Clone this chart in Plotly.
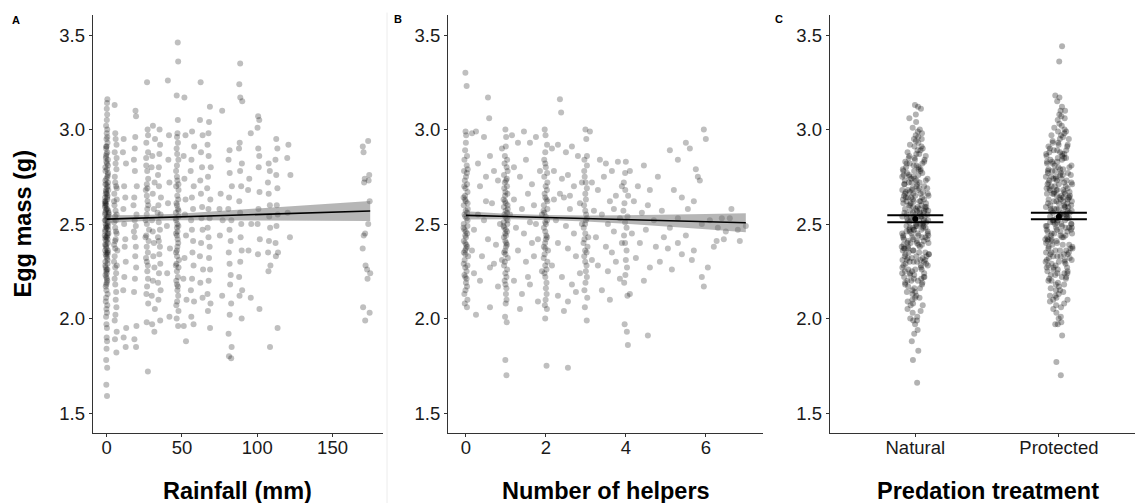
import plotly.graph_objects as go

W, H = 1135, 503
FONT = "Liberation Sans, Arial, sans-serif"
PT = "rgba(0,0,0,0.25)"
PT_DENSE = "rgba(0,0,0,0.30)"

# ---------------- Panel A: egg mass by rainfall (mm) ----------------
mass_r0 = [3.16, 3.14, 3.11, 3.08, 3.05, 3.02, 3.00, 2.98, 2.96, 2.95, 2.93, 2.91, 2.90, 2.88, 2.87, 2.86, 2.85, 2.83, 2.82, 2.80,
           2.79, 2.78, 2.76, 2.75, 2.74, 2.72, 2.71, 2.70, 2.68, 2.67, 2.66, 2.65, 2.64, 2.62, 2.61, 2.60, 2.59, 2.58, 2.57, 2.56,
           2.55, 2.54, 2.53, 2.52, 2.51, 2.50, 2.49, 2.48, 2.47, 2.46, 2.45, 2.44, 2.43, 2.42, 2.41, 2.40, 2.39, 2.38, 2.36, 2.35,
           2.34, 2.33, 2.31, 2.30, 2.29, 2.27, 2.26, 2.25, 2.23, 2.22, 2.20, 2.19, 2.17, 2.15, 2.13, 2.11, 2.09, 2.07, 2.05, 2.03,
           2.01, 1.97, 1.95, 1.90, 1.88, 1.84, 1.78, 1.74, 1.65, 1.59,
           2.84, 2.77, 2.69, 2.63, 2.58, 2.53, 2.47, 2.42, 2.37, 2.32, 2.28, 2.24, 2.57, 2.61, 2.44, 2.50, 2.36, 2.71, 2.66, 2.55,
           2.81, 2.73, 2.64, 2.56, 2.49, 2.45, 2.39, 2.34, 2.26, 2.21, 2.52, 2.60, 2.68, 2.43, 2.35, 2.91, 2.18, 2.48, 2.54, 2.62]
mass_r6 = [3.13, 2.98, 2.95, 2.92, 2.88, 2.85, 2.82, 2.79, 2.75, 2.72, 2.69, 2.66, 2.62, 2.60, 2.57, 2.54, 2.51, 2.48,
           2.45, 2.42, 2.39, 2.36, 2.33, 2.30, 2.27, 2.24, 2.21, 2.18, 2.14, 2.10, 2.06, 2.02, 1.99, 1.93, 1.89, 1.82,
           2.63, 2.55, 2.46, 2.37, 2.28, 2.70, 2.52, 2.41]
mass_r12 = [2.95, 2.88, 2.82, 2.70, 2.64, 2.58, 2.50, 2.42, 2.38, 2.30, 2.22, 2.15, 1.95, 1.90, 1.85]
mass_r19 = [3.10, 3.07, 2.96, 2.90, 2.84, 2.78, 2.70, 2.64, 2.60, 2.55, 2.49, 2.43, 2.38, 2.33, 2.27, 2.21, 2.14,
            1.96, 1.89, 1.85, 2.52, 2.46]
mass_r27 = [3.25, 3.00, 2.97, 2.93, 2.88, 2.85, 2.81, 2.78, 2.74, 2.71, 2.68, 2.65, 2.62, 2.58, 2.55, 2.52, 2.50,
            2.47, 2.44, 2.41, 2.38, 2.35, 2.32, 2.28, 2.25, 2.21, 2.17, 2.13, 2.08, 1.98, 1.72, 2.60, 2.43, 2.30, 2.69]
mass_r31 = [3.02, 2.95, 2.86, 2.80, 2.72, 2.66, 2.58, 2.52, 2.46, 2.40, 2.33, 2.27, 2.20, 2.12, 2.05, 1.97, 1.93]
mass_r35 = [3.00, 2.92, 2.87, 2.80, 2.76, 2.70, 2.64, 2.60, 2.56, 2.51, 2.47, 2.43, 2.38, 2.34, 2.29, 2.24, 2.19,
            2.15, 2.10, 1.99, 2.55, 2.41]
mass_r41 = [3.26, 2.97, 2.84, 2.72, 2.61, 2.49, 2.37, 2.24, 2.01]
mass_r47 = [3.46, 3.36, 3.18, 3.05, 2.98, 2.96, 2.93, 2.90, 2.87, 2.84, 2.81, 2.78, 2.75, 2.73, 2.70, 2.68, 2.65,
            2.63, 2.60, 2.58, 2.56, 2.54, 2.52, 2.50, 2.48, 2.46, 2.44, 2.42, 2.40, 2.38, 2.35, 2.33, 2.31, 2.29,
            2.27, 2.25, 2.22, 2.20, 2.18, 2.15, 2.12, 2.09, 2.07, 2.04, 2.00, 1.96, 2.61, 2.53, 2.45, 2.36, 2.28,
            2.17, 2.71, 2.57, 2.49]
mass_r52 = [3.17, 2.97, 2.86, 2.74, 2.63, 2.55, 2.44, 2.32, 2.21, 2.10, 1.96, 1.88]
mass_r57 = [2.99, 2.91, 2.84, 2.78, 2.70, 2.64, 2.58, 2.52, 2.47, 2.41, 2.35, 2.28, 2.21, 2.15, 2.09, 2.01, 1.97]
mass_r63 = [3.25, 3.05, 2.97, 2.88, 2.80, 2.73, 2.66, 2.59, 2.53, 2.47, 2.40, 2.33, 2.26, 2.19, 2.11]
mass_r68 = [3.12, 3.04, 2.98, 2.92, 2.86, 2.80, 2.75, 2.69, 2.63, 2.58, 2.53, 2.48, 2.43, 2.38, 2.32, 2.26, 2.20,
            2.13, 2.08, 2.04, 1.95]
mass_r76 = [3.10, 2.66, 2.58, 2.52, 2.44, 2.12]
mass_r82 = [2.89, 2.84, 2.77, 2.70, 2.64, 2.58, 2.52, 2.47, 2.41, 2.35, 2.29, 2.23, 2.18, 2.08, 2.02, 1.92, 1.85,
            1.80, 1.79]
mass_r89 = [3.35, 3.24, 3.17, 3.15, 2.93, 2.90, 2.82, 2.78, 2.70, 2.62, 2.56, 2.50, 2.43, 2.36, 2.30, 2.22, 2.15,
            2.12, 2.00]
mass_r95 = [2.98, 2.74, 2.68, 2.50, 2.36, 2.11]
mass_r101 = [3.07, 3.05, 3.01, 2.90, 2.86, 2.80, 2.67, 2.58, 2.50, 2.42, 2.34, 2.05]
mass_r108 = [2.82, 2.78, 2.72, 2.66, 2.60, 2.54, 2.48, 2.41, 2.35, 2.28, 2.25, 1.85]
mass_r113 = [2.95, 2.90, 2.84, 2.76, 2.69, 2.60, 2.55, 2.49, 2.40, 2.35, 2.33, 1.95]
mass_r121 = [2.92, 2.85, 2.76, 2.56, 2.43]
mass_r171 = [2.91, 2.88, 2.74, 2.72, 2.45, 2.44, 2.37, 2.28, 2.06, 1.99]
mass_r174 = [2.94, 2.76, 2.73, 2.62, 2.50, 2.26, 2.24, 2.21, 2.03]

rain_columns = [(0, mass_r0), (6, mass_r6), (12, mass_r12), (19, mass_r19), (27, mass_r27), (31, mass_r31),
                (35, mass_r35), (41, mass_r41), (47, mass_r47), (52, mass_r52), (57, mass_r57), (63, mass_r63),
                (68, mass_r68), (76, mass_r76), (82, mass_r82), (89, mass_r89), (95, mass_r95), (101, mass_r101),
                (108, mass_r108), (113, mass_r113), (121, mass_r121), (171, mass_r171), (174, mass_r174)]

rain_fit_x = [0, 25, 50, 75, 100, 125, 150, 175]
rain_fit_y = [2.526, 2.532, 2.538, 2.545, 2.551, 2.557, 2.563, 2.569]
rain_fit_lo = [2.506, 2.516, 2.520, 2.521, 2.519, 2.518, 2.517, 2.516]
rain_fit_hi = [2.546, 2.548, 2.556, 2.569, 2.583, 2.596, 2.609, 2.622]

# ---------------- Panel B: egg mass by number of helpers ----------------
mass_h0 = [3.30, 3.23, 2.99, 2.97, 2.93, 2.89, 2.86, 2.84, 2.81, 2.79, 2.77, 2.75, 2.73, 2.71, 2.69, 2.67, 2.65,
           2.63, 2.61, 2.60, 2.58, 2.56, 2.55, 2.53, 2.52, 2.50, 2.49, 2.47, 2.46, 2.44, 2.43, 2.41, 2.39, 2.38,
           2.36, 2.34, 2.33, 2.31, 2.29, 2.27, 2.25, 2.23, 2.21, 2.19, 2.17, 2.15, 2.13, 2.10, 2.08, 2.06, 2.62,
           2.57, 2.48, 2.40, 2.35, 2.78, 2.70, 2.64, 2.54, 2.45, 2.37, 2.28, 2.22]
mass_h1 = [3.00, 2.96, 2.91, 2.86, 2.84, 2.82, 2.80, 2.78, 2.76, 2.74, 2.72, 2.70, 2.69, 2.67, 2.65, 2.63, 2.62,
           2.60, 2.58, 2.57, 2.55, 2.54, 2.52, 2.51, 2.49, 2.48, 2.46, 2.45, 2.43, 2.41, 2.40, 2.38, 2.36, 2.34,
           2.32, 2.30, 2.28, 2.26, 2.24, 2.22, 2.20, 2.18, 2.16, 2.13, 2.10, 2.08, 2.01, 1.98, 1.78, 1.70, 2.59,
           2.53, 2.47, 2.39, 2.56, 2.66, 2.61, 2.50, 2.44, 2.35, 2.73]
mass_h2 = [3.00, 2.97, 2.92, 2.88, 2.84, 2.82, 2.80, 2.77, 2.75, 2.72, 2.70, 2.68, 2.66, 2.64, 2.62, 2.60, 2.58,
           2.56, 2.54, 2.52, 2.50, 2.48, 2.46, 2.44, 2.42, 2.40, 2.38, 2.36, 2.34, 2.32, 2.30, 2.28, 2.26, 2.24,
           2.22, 2.19, 2.16, 2.13, 2.10, 2.07, 2.05, 2.00, 1.75, 2.57, 2.43, 2.63, 2.51, 2.37]
mass_h3 = [3.00, 2.95, 2.86, 2.84, 2.81, 2.78, 2.75, 2.72, 2.69, 2.66, 2.63, 2.60, 2.57, 2.55, 2.53, 2.50, 2.48,
           2.45, 2.43, 2.40, 2.38, 2.35, 2.33, 2.30, 2.28, 2.25, 2.22, 2.19, 2.15, 2.11, 2.06, 1.99, 2.52, 2.42,
           2.36]
mass_h4 = [2.83, 2.77, 2.72, 2.68, 2.65, 2.61, 2.57, 2.54, 2.51, 2.48, 2.44, 2.40, 2.36, 2.31, 2.27, 2.23, 2.19,
           2.12, 1.97, 1.93]
helper_columns = [(0, mass_h0), (1, mass_h1), (2, mass_h2), (3, mass_h3), (4, mass_h4)]

# nests whose helper count is a non-integer average
frac_helpers = [0.15, 0.25, 0.30, 0.45, 0.55, 0.60, 0.35, 0.50, 0.70, 0.80, 0.65, 0.30, 0.45, 0.20, 0.55, 0.75,
                0.85, 0.40, 0.60, 0.20, 0.35, 0.70, 0.80, 0.25, 0.60, 0.90, 0.58, 0.15, 0.90, 0.50,
                1.15, 1.30, 1.45, 1.60, 1.75, 1.20, 1.35, 1.50, 1.65, 1.85, 1.20, 1.40, 1.55, 1.70, 1.90, 1.25,
                1.45, 1.60, 1.80, 1.30, 1.50, 1.70, 1.90, 1.20, 1.40, 1.60, 1.80, 1.35, 1.65, 1.10, 1.55, 1.75,
                2.15, 2.35, 2.38, 2.30, 2.50, 2.65, 2.80, 2.20, 2.40, 2.55, 2.70, 2.90, 2.20, 2.35, 2.45, 2.60,
                2.85, 2.25, 2.50, 2.70, 2.90, 2.30, 2.55, 2.75, 2.15, 2.40, 2.65, 2.85, 2.30, 2.55, 2.45, 2.55,
                2.75, 2.60,
                3.10, 3.35, 3.50, 3.65, 3.80, 3.15, 3.30, 3.45, 3.60, 3.75, 3.90, 3.20, 3.40, 3.55, 3.70, 3.85,
                3.25, 3.50, 3.65, 3.90, 3.30, 3.55, 3.75, 3.40, 3.60, 3.85, 3.15, 3.70,
                4.10, 4.30, 4.45, 4.60, 4.80, 4.20, 4.40, 4.55, 4.70, 4.90, 4.15, 4.35, 4.50, 4.75, 4.25, 4.60,
                4.85, 4.10, 4.55, 4.05, 4.45, 4.95,
                5.10, 5.30, 5.50, 5.60, 5.75, 5.80, 5.85, 6.00, 5.95, 5.20, 5.40, 5.55, 5.70, 5.30, 5.10, 5.50,
                5.90, 6.10, 6.30, 6.50, 6.80, 7.00, 6.60, 5.15, 5.40, 5.65, 5.90, 5.95, 6.05, 6.20, 6.45, 6.85,
                5.05, 5.30, 5.70, 6.64, 6.40, 6.27]
frac_mass = [2.98, 2.99, 2.82, 2.96, 3.17, 2.86, 2.70, 2.75, 2.78, 2.73, 2.61, 2.55, 2.52, 2.47, 2.42, 2.39,
             2.50, 2.33, 2.27, 2.24, 2.20, 2.29, 2.17, 2.02, 2.06, 2.90, 3.06, 2.36, 2.31, 2.62,
             2.97, 2.93, 2.99, 2.93, 2.96, 2.80, 2.75, 2.84, 2.71, 2.78, 2.63, 2.58, 2.66, 2.60, 2.55, 2.48,
             2.45, 2.51, 2.42, 2.36, 2.30, 2.33, 2.25, 2.20, 2.13, 2.18, 2.09, 2.05, 2.40, 2.55, 2.22, 2.50,
             2.90, 3.16, 3.09, 2.92, 2.88, 2.91, 2.86, 2.78, 2.74, 2.76, 2.70, 2.72, 2.63, 2.66, 2.64, 2.58,
             2.61, 2.52, 2.49, 2.45, 2.50, 2.40, 2.37, 2.33, 2.28, 2.22, 2.18, 2.24, 2.12, 2.09, 2.04, 1.74,
             2.14, 2.65,
             2.99, 2.84, 2.82, 2.78, 2.83, 2.72, 2.68, 2.75, 2.62, 2.65, 2.70, 2.57, 2.55, 2.50, 2.46, 2.53,
             2.43, 2.38, 2.35, 2.40, 2.28, 2.25, 2.30, 2.15, 2.10, 2.21, 2.31, 2.58,
             2.78, 2.70, 2.81, 2.68, 2.75, 2.62, 2.56, 2.60, 2.52, 2.57, 2.45, 2.40, 2.47, 2.38, 2.32, 2.27,
             2.30, 2.13, 1.91, 1.86, 2.20, 2.43,
             2.89, 2.84, 2.93, 2.90, 2.79, 2.75, 2.73, 2.95, 3.00, 2.68, 2.64, 2.58, 2.62, 2.53, 2.48, 2.44,
             2.50, 2.52, 2.48, 2.46, 2.47, 2.49, 2.53, 2.26, 2.34, 2.31, 2.22, 2.17, 2.27, 2.38, 2.42, 2.41,
             2.37, 2.40, 2.36, 2.58, 2.53, 2.41]

help_fit_x = [0, 1, 2, 3, 4, 5, 6, 7]
help_fit_y = [2.546, 2.540, 2.535, 2.529, 2.524, 2.518, 2.513, 2.507]
help_fit_lo = [2.524, 2.525, 2.522, 2.513, 2.502, 2.488, 2.473, 2.457]
help_fit_hi = [2.568, 2.555, 2.548, 2.545, 2.546, 2.548, 2.553, 2.557]

# ---------------- Panel C: egg mass by predation treatment ----------------
treatments = ["Natural", "Protected"]
mass_natural = [
    3.13, 3.12, 3.11, 3.08, 3.06, 3.04, 3.01, 3.00,
    2.99, 2.98, 2.97, 2.96, 2.95, 2.95, 2.94, 2.93, 2.92, 2.91, 2.91, 2.90,
    2.89, 2.89, 2.88, 2.87, 2.87, 2.86, 2.86, 2.85, 2.85, 2.84, 2.84, 2.83, 2.83, 2.82, 2.82, 2.82, 2.81, 2.81, 2.80, 2.80,
    2.79, 2.79, 2.79, 2.78, 2.78, 2.78, 2.77, 2.77, 2.76, 2.76, 2.76, 2.75, 2.75, 2.75, 2.74, 2.74, 2.74, 2.73, 2.73, 2.73,
    2.72, 2.72, 2.72, 2.71, 2.71, 2.71, 2.70, 2.70,
    2.69, 2.69, 2.69, 2.68, 2.68, 2.68, 2.68, 2.67, 2.67, 2.67, 2.66, 2.66, 2.66, 2.66, 2.65, 2.65, 2.65, 2.64, 2.64,
    2.64, 2.64, 2.63, 2.63, 2.63, 2.62, 2.62, 2.62, 2.62, 2.61, 2.61, 2.61, 2.60, 2.60, 2.60,
    2.59, 2.59, 2.59, 2.59, 2.58, 2.58, 2.58, 2.58, 2.57, 2.57, 2.57, 2.57, 2.56, 2.56, 2.56, 2.56, 2.55, 2.55, 2.55,
    2.55, 2.54, 2.54, 2.54, 2.54, 2.53, 2.53, 2.53, 2.53, 2.52, 2.52, 2.52, 2.52, 2.51, 2.51, 2.51, 2.50, 2.50, 2.50,
    2.49, 2.49, 2.49, 2.49, 2.48, 2.48, 2.48, 2.48, 2.47, 2.47, 2.47, 2.47, 2.46, 2.46, 2.46, 2.45, 2.45, 2.45, 2.45,
    2.44, 2.44, 2.44, 2.43, 2.43, 2.43, 2.43, 2.42, 2.42, 2.42, 2.41, 2.41, 2.41, 2.40, 2.40, 2.40, 2.40,
    2.39, 2.39, 2.39, 2.38, 2.38, 2.38, 2.37, 2.37, 2.37, 2.36, 2.36, 2.36, 2.35, 2.35, 2.35, 2.34, 2.34, 2.34,
    2.33, 2.33, 2.33, 2.32, 2.32, 2.32, 2.31, 2.31, 2.31, 2.30, 2.30, 2.30, 2.30, 2.31,
    2.29, 2.29, 2.28, 2.28, 2.28, 2.27, 2.27, 2.26, 2.26, 2.26, 2.25, 2.25, 2.24, 2.24, 2.24, 2.23, 2.23, 2.22, 2.22,
    2.22, 2.21, 2.21, 2.20, 2.20, 2.20,
    2.19, 2.19, 2.18, 2.18, 2.17, 2.16, 2.16, 2.15, 2.14, 2.14, 2.13, 2.12, 2.11, 2.11, 2.10,
    2.09, 2.08, 2.07, 2.07, 2.05, 2.04, 2.03, 2.01,
    2.00, 1.99, 1.99, 1.97, 1.94, 1.92, 1.88, 1.83, 1.78, 1.66]
mass_protected = [
    3.44, 3.36, 3.18, 3.17, 3.15, 3.12, 3.10, 3.10, 3.08, 3.07, 3.06, 3.05, 3.03, 3.02, 3.01, 3.00,
    2.99, 2.99, 2.98, 2.97, 2.97, 2.96, 2.95, 2.95, 2.94, 2.93, 2.93, 2.92, 2.92, 2.91, 2.91, 2.90,
    2.89, 2.89, 2.89, 2.88, 2.88, 2.87, 2.87, 2.87, 2.86, 2.86, 2.85, 2.85, 2.85, 2.84, 2.84, 2.83, 2.83, 2.83,
    2.82, 2.82, 2.81, 2.81, 2.80, 2.80,
    2.79, 2.79, 2.79, 2.78, 2.78, 2.78, 2.77, 2.77, 2.77, 2.76, 2.76, 2.76, 2.75, 2.75, 2.75, 2.74, 2.74, 2.74,
    2.73, 2.73, 2.73, 2.72, 2.72, 2.72, 2.71, 2.71, 2.71, 2.70, 2.70, 2.70,
    2.69, 2.69, 2.69, 2.68, 2.68, 2.68, 2.68, 2.67, 2.67, 2.67, 2.66, 2.66, 2.66, 2.66, 2.65, 2.65, 2.65, 2.64,
    2.64, 2.64, 2.64, 2.63, 2.63, 2.63, 2.62, 2.62, 2.62, 2.62, 2.61, 2.61, 2.61, 2.60, 2.60, 2.60,
    2.59, 2.59, 2.59, 2.59, 2.58, 2.58, 2.58, 2.58, 2.57, 2.57, 2.57, 2.56, 2.56, 2.56, 2.56, 2.55, 2.55, 2.55,
    2.54, 2.54, 2.54, 2.54, 2.53, 2.53, 2.53, 2.52, 2.52, 2.52, 2.52, 2.51, 2.51, 2.51, 2.50, 2.50, 2.50, 2.50,
    2.49, 2.49, 2.49, 2.48, 2.48, 2.48, 2.48, 2.47, 2.47, 2.47, 2.46, 2.46, 2.46, 2.45, 2.45, 2.45, 2.44, 2.44,
    2.44, 2.43, 2.43, 2.43, 2.42, 2.42, 2.42, 2.41, 2.41, 2.41, 2.40, 2.40,
    2.39, 2.39, 2.39, 2.38, 2.38, 2.37, 2.37, 2.37, 2.36, 2.36, 2.35, 2.35, 2.35, 2.34, 2.34, 2.33, 2.33, 2.33,
    2.32, 2.32, 2.31, 2.31, 2.31, 2.30, 2.30, 2.30, 2.34, 2.36,
    2.29, 2.29, 2.28, 2.28, 2.27, 2.27, 2.26, 2.26, 2.25, 2.25, 2.24, 2.24, 2.23, 2.23, 2.22, 2.22, 2.21, 2.21,
    2.20, 2.20, 2.27, 2.24,
    2.19, 2.18, 2.18, 2.17, 2.16, 2.15, 2.15, 2.14, 2.13, 2.12, 2.12, 2.11, 2.10, 2.10,
    2.09, 2.08, 2.07, 2.06, 2.05, 2.03, 2.01,
    2.00, 1.98, 1.97, 1.97, 1.91, 1.77, 1.70]
treat_mean = [2.526, 2.539]
treat_lo = [2.509, 2.525]
treat_hi = [2.546, 2.560]

# ---------------- figure ----------------
fig = go.Figure()


def jitter_column(pos, values, width, xa, ya, color=PT):
    """A strip of points at one x position, spread sideways by the box-trace jitter."""
    return go.Box(
        y=values, x0=pos, width=width, boxpoints="all", jitter=1, pointpos=0,
        fillcolor="rgba(0,0,0,0)", line=dict(width=0, color="rgba(0,0,0,0)"),
        marker=dict(color=color, size=6, line=dict(width=0)),
        hoverinfo="skip", showlegend=False, xaxis=xa, yaxis=ya,
    )


def ribbon(xs, lo, hi, xa, ya):
    return go.Scatter(
        x=list(xs) + list(xs)[::-1], y=list(hi) + list(lo)[::-1],
        fill="toself", fillcolor="rgba(110,110,110,0.5)", line=dict(width=0),
        mode="lines", hoverinfo="skip", showlegend=False, xaxis=xa, yaxis=ya,
    )


# Panel A
for pos, vals in rain_columns:
    fig.add_trace(jitter_column(pos, vals, 2.6, "x", "y"))
fig.add_trace(ribbon(rain_fit_x, rain_fit_lo, rain_fit_hi, "x", "y"))
fig.add_trace(go.Scatter(x=rain_fit_x, y=rain_fit_y, mode="lines", line=dict(color="black", width=1.6),
                         showlegend=False, hoverinfo="skip", xaxis="x", yaxis="y"))

# Panel B
for pos, vals in helper_columns:
    fig.add_trace(jitter_column(pos, vals, 0.13, "x2", "y2"))
fig.add_trace(go.Scatter(x=frac_helpers, y=frac_mass, mode="markers",
                         marker=dict(color=PT, size=6, line=dict(width=0)),
                         showlegend=False, hoverinfo="skip", xaxis="x2", yaxis="y2"))
fig.add_trace(ribbon(help_fit_x, help_fit_lo, help_fit_hi, "x2", "y2"))
fig.add_trace(go.Scatter(x=help_fit_x, y=help_fit_y, mode="lines", line=dict(color="black", width=1.6),
                         showlegend=False, hoverinfo="skip", xaxis="x2", yaxis="y2"))

# Panel C
treat_pos = [1, 2]
fig.add_trace(jitter_column(1, mass_natural, 0.19, "x3", "y3", PT_DENSE))
fig.add_trace(jitter_column(2, mass_protected, 0.19, "x3", "y3", PT_DENSE))
fig.add_trace(go.Scatter(
    x=treat_pos, y=treat_mean, mode="markers", marker=dict(color="black", size=6),
    error_y=dict(type="data", symmetric=False,
                 array=[h - m for h, m in zip(treat_hi, treat_mean)],
                 arrayminus=[m - l for m, l in zip(treat_mean, treat_lo)],
                 width=28, thickness=2, color="black"),
    showlegend=False, hoverinfo="skip", xaxis="x3", yaxis="y3"))

# ---------------- axes ----------------
ydom = [(503 - 432.7) / H, (503 - 15) / H]
tickfont = dict(family=FONT, size=18.5, color="#1a1a1a")
common = dict(showline=True, linecolor="#333333", linewidth=1, ticks="outside", ticklen=3,
              tickcolor="#333333", tickwidth=1, showgrid=False, zeroline=False, tickfont=tickfont)
yax = dict(common, range=[1.396, 3.606], tickvals=[1.5, 2.0, 2.5, 3.0, 3.5], tickformat=".1f", domain=ydom)
xax = dict(common, type="linear", ticklabelstandoff=-5)

fig.update_layout(
    width=W, height=H, margin=dict(l=0, r=0, t=0, b=0),
    paper_bgcolor="white", plot_bgcolor="white", showlegend=False,
    font=dict(family=FONT),
    xaxis=dict(xax, domain=[92.7 / W, 383 / W], range=[-9.3, 183.5],
               tickvals=[0, 50, 100, 150], anchor="y"),
    yaxis=dict(yax, anchor="x"),
    xaxis2=dict(xax, domain=[448 / W, 763 / W], range=[-0.45, 7.43],
                tickvals=[0, 2, 4, 6], anchor="y2"),
    yaxis2=dict(yax, anchor="x2"),
    xaxis3=dict(xax, domain=[829.7 / W, 1.0], range=[0.404, 2.53],
                tickvals=treat_pos, ticktext=treatments, anchor="y3"),
    yaxis3=dict(yax, anchor="x3"),
)

title_font = dict(family=FONT, size=23.5, color="black")
notes = [
    dict(text="<b>Egg mass (g)</b>", x=23 / W, y=(503 - 223.5) / H, textangle=-90),
    dict(text="<b>Rainfall (mm)</b>", x=237.8 / W, y=(503 - 490.7) / H),
    dict(text="<b>Number of helpers</b>", x=605.5 / W, y=(503 - 490.7) / H),
    dict(text="<b>Predation treatment</b>", x=988 / W, y=(503 - 490.7) / H),
]
for n in notes:
    fig.add_annotation(xref="paper", yref="paper", showarrow=False, xanchor="center", yanchor="middle",
                       font=title_font, **n)

for letter, px, py in [("A", 16, 20), ("B", 397.5, 19), ("C", 779, 19.5)]:
    fig.add_annotation(text=f"<b>{letter}</b>", xref="paper", yref="paper", x=px / W, y=(503 - py) / H,
                       showarrow=False, xanchor="center", yanchor="middle",
                       font=dict(family=FONT, size=11, color="black"))

# faint divider between the first two panels
fig.add_shape(type="line", xref="paper", yref="paper", x0=387 / W, x1=387 / W, y0=0, y1=0.975,
              line=dict(color="#ececec", width=1))

fig.write_html("out.html")
